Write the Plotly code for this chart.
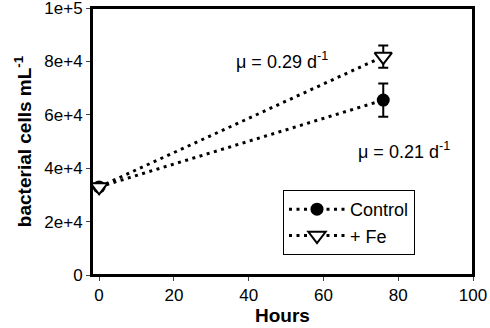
import plotly.graph_objects as go

hours = [0, 76]
control = [33000, 65500]
control_err = [0, 6200]
fe = [33000, 81800]
fe_err = [0, 4200]
yticks = [0, 20000, 40000, 60000, 80000, 100000]
yticklabels = ["0", "2e+4", "4e+4", "6e+4", "8e+4", "1e+5"]
xticks = [0, 20, 40, 60, 80, 100]

font = "Liberation Sans, Arial, sans-serif"
dotted = "3px,4.5px"

fig = go.Figure()
fig.add_trace(go.Scatter(
    x=hours, y=control, name="Control", mode="lines+markers",
    line=dict(color="black", width=3, dash=dotted),
    marker=dict(symbol="circle", size=13, color="black"),
    error_y=dict(type="data", array=control_err, color="black", thickness=2, width=5),
))
fig.add_trace(go.Scatter(
    x=hours, y=fe, name="+ Fe", mode="lines+markers",
    line=dict(color="black", width=3, dash=dotted),
    marker=dict(symbol="triangle-down", size=15, color="white", line=dict(width=2, color="black")),
    error_y=dict(type="data", array=fe_err, color="black", thickness=2, width=5),
))

fig.add_annotation(x=49, y=80500, text="μ = 0.29 d<sup>-1</sup>", showarrow=False,
                   font=dict(family=font, size=18, color="black"))
fig.add_annotation(x=81.5, y=46800, text="μ = 0.21 d<sup>-1</sup>", showarrow=False,
                   font=dict(family=font, size=18, color="black"))

fig.add_shape(type="rect", xref="paper", yref="paper", x0=0, y0=0, x1=1, y1=1,
              line=dict(color="black", width=2), layer="above")

fig.update_layout(
    width=490, height=328,
    margin=dict(l=92, r=17, t=8, b=53),
    paper_bgcolor="white", plot_bgcolor="white",
    font=dict(family=font, size=17, color="black"),
    legend=dict(x=(283 - 92) / 381, y=(275 - 190) / 267, xanchor="left", yanchor="top",
                bordercolor="black", borderwidth=1, bgcolor="white",
                font=dict(size=18), tracegroupgap=0, itemwidth=56),
    showlegend=True,
)
fig.update_xaxes(
    range=[-1.9, 100], tickvals=xticks, ticks="outside", ticklen=4, tickwidth=1,
    showline=True, linecolor="black", linewidth=2, mirror=True, showgrid=False, zeroline=False,
    automargin=False, ticklabeloverflow="allow",
    title=dict(text="<b>Hours</b>", font=dict(size=19), standoff=4),
)
fig.update_yaxes(
    range=[0, 100000], tickvals=yticks, ticktext=yticklabels, ticks="outside", ticklen=4, tickwidth=1,
    showline=True, linecolor="black", linewidth=2, mirror=True, showgrid=False, zeroline=False,
    automargin=False, ticklabeloverflow="allow",
    title=dict(text="<b>bacterial cells mL<sup>-1</sup></b>", font=dict(size=19), standoff=8),
)

fig.write_html("out.html", config={"displayModeBar": False},
               post_script="document.body.style.margin='0';")
